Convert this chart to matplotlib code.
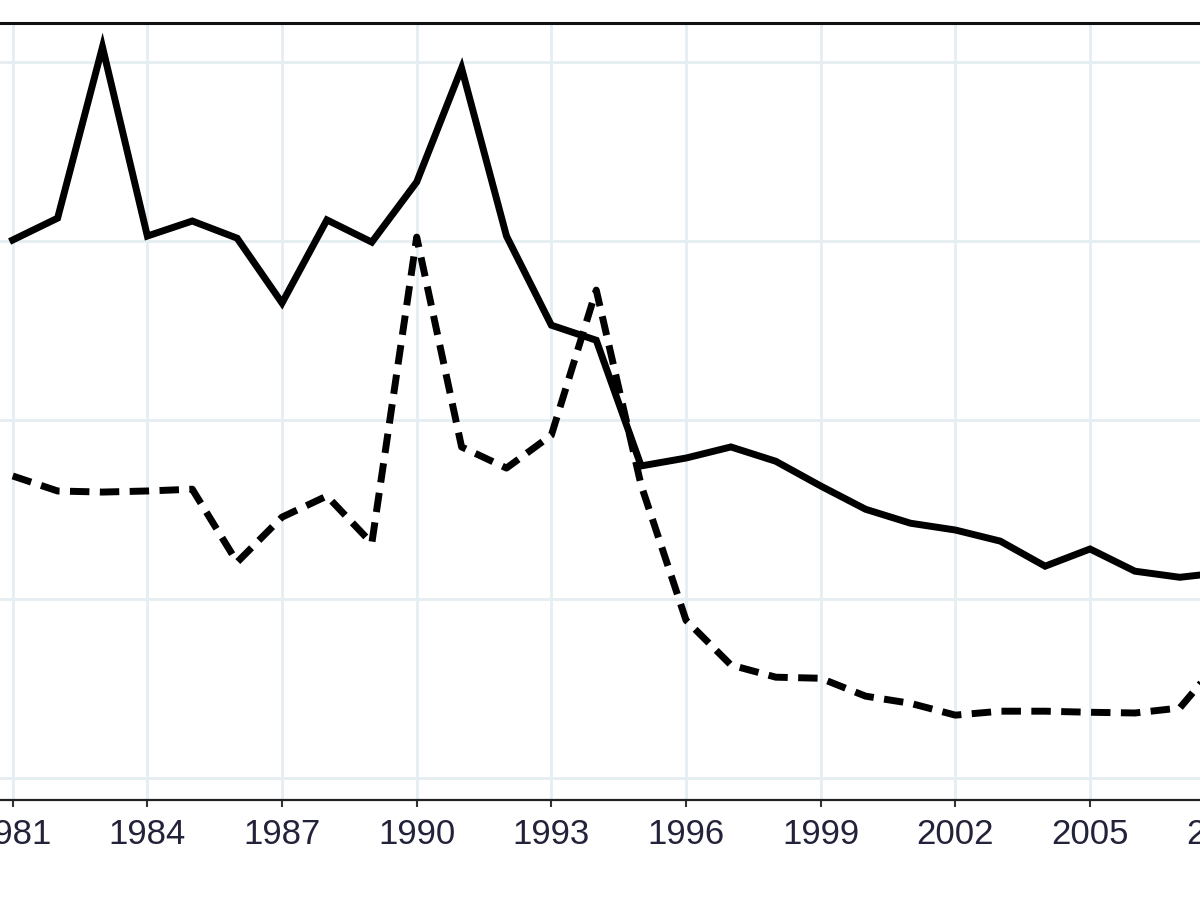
import matplotlib
matplotlib.use("Agg")
import matplotlib.pyplot as plt
import matplotlib.transforms as mtransforms

years = list(range(1981, 2009))
solid_series = [15.03, 15.64, 20.42, 15.14, 15.56, 15.08, 13.27, 15.59, 14.97, 16.65,
                19.83, 15.14, 12.65, 12.23, 8.72, 8.94, 9.25, 8.85, 8.16, 7.51,
                7.12, 6.93, 6.62, 5.92, 6.40, 5.78, 5.61, 5.75]
dashed_series = [8.44, 8.02, 7.99, 8.02, 8.07, 6.03, 7.29, 7.88, 6.56, 15.11,
                 9.25, 8.66, 9.58, 13.63, 8.18, 4.41, 3.16, 2.82, 2.79, 2.29,
                 2.09, 1.76, 1.87, 1.87, 1.84, 1.82, 1.96, 3.44]
xtick_years = list(range(1981, 2009, 3))
ygrid_values = [0, 5, 10, 15, 20]

plt.rcParams['font.family'] = ['Liberation Sans', 'DejaVu Sans']

fig = plt.figure(figsize=(12, 9), dpi=100)
ax = fig.add_axes([0, 1 - 800 / 900, 1, (800 - 23) / 900])

ax.plot(years, solid_series, color='black', lw=5, solid_joinstyle='miter', zorder=3)
ax.plot(years, dashed_series, color='black', lw=5, dashes=(2.8, 1.5), zorder=3)

ax.set_xticks(xtick_years)
ax.set_xticklabels([str(y) for y in xtick_years])
ax.set_yticks(ygrid_values)
ax.set_xlim(1980.717, 2007.45)
ax.set_ylim(-0.61, 21.09)

label_size = 25
label_color = '#22223a'
ax.tick_params(axis='y', left=False, labelleft=False)
ax.tick_params(axis='x', direction='out', length=5, width=1.5, color='#333333',
               labelsize=label_size, labelcolor=label_color, pad=8)

# the last tick label lies just beyond the right edge and is only partly visible
trans = mtransforms.blended_transform_factory(ax.transData, ax.transAxes)
last_year = xtick_years[-1]
ax.annotate(str(last_year), xy=(last_year, 0), xycoords=trans,
            xytext=(0, -13), textcoords='offset points',
            ha='center', va='top', fontsize=label_size, color=label_color,
            annotation_clip=False)

ax.grid(True, color='#e5eef2', lw=2, zorder=0)
ax.set_axisbelow(True)

for s in ['left', 'right']:
    ax.spines[s].set_visible(False)
ax.spines['top'].set_linewidth(2.2)
ax.spines['top'].set_color('#111111')
ax.spines['bottom'].set_linewidth(1.6)
ax.spines['bottom'].set_color('#222222')

fig.savefig('out.png', dpi=100, facecolor='white')
